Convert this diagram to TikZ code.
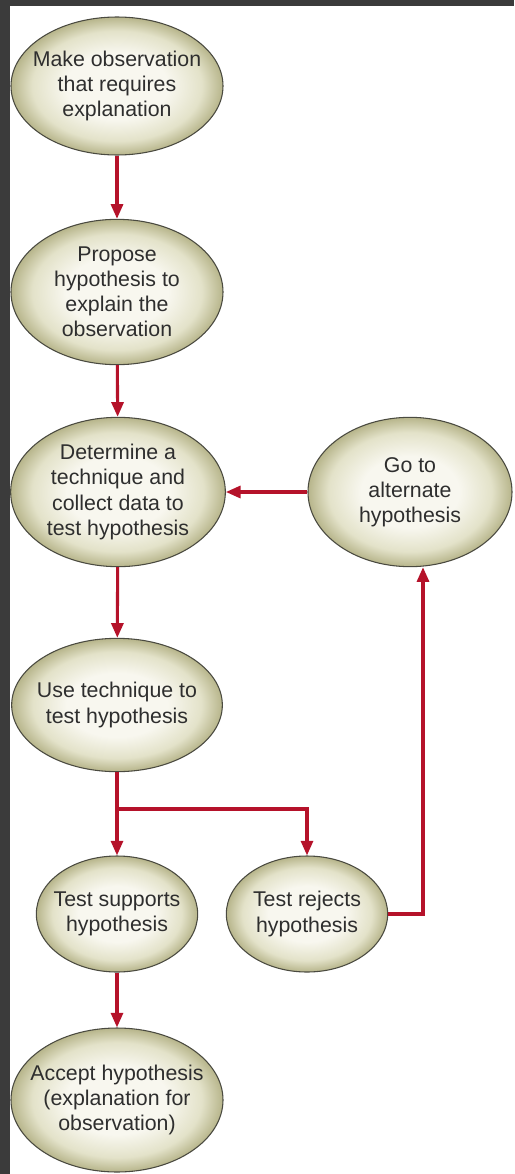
\documentclass[tikz,border=0pt]{standalone}
\usepackage{fontspec}
\setmainfont{Liberation Sans}
\usetikzlibrary{arrows.meta,shapes.geometric}
\definecolor{framegray}{HTML}{3B3B3B}
\definecolor{eggin}{HTML}{F8F7EF}
\definecolor{eggmid}{HTML}{E3E2C9}
\definecolor{eggout}{HTML}{B7B58B}
\definecolor{arrowred}{HTML}{B5122A}
\definecolor{txtgray}{HTML}{2E2E2E}
\definecolor{rimgray}{HTML}{4A4A40}
\pgfdeclareradialshading{eggshade}{\pgfpoint{0bp}{0bp}}{color(0bp)=(eggin); color(12bp)=(eggin); color(20bp)=(eggmid); color(25bp)=(eggout); color(50bp)=(eggout)}
\tikzset{
  egg/.style={ellipse, draw=rimgray, line width=0.8pt, shading=eggshade,
    inner sep=0pt},
  eggtext/.style={inner sep=0pt, align=center,
    font=\fontsize{16}{18.8}\selectfont, text=txtgray},
  flow/.style={draw=arrowred, line width=2.3pt,
    -{Triangle[length=11pt,width=9pt]}},
  flowline/.style={draw=arrowred, line width=2.3pt}
}
\begin{document}
\begin{tikzpicture}[x=0.75pt,y=-0.75pt]
\useasboundingbox (0,0) rectangle (514,1174);
\fill[framegray] (0,0) rectangle (514,1174);
\fill[white] (10,6) rectangle (514,1174);

\node[egg, minimum width=159pt, minimum height=103.5pt] (obs) at (117,86) {};
\node[eggtext] (obst) at (obs) {Make observation\\that requires\\explanation};
\node[egg, minimum width=159pt, minimum height=109pt] (prop) at (117,292) {};
\node[eggtext] (propt) at (prop) {Propose\\hypothesis to\\explain the\\observation};
\node[egg, minimum width=161pt, minimum height=112pt] (det) at (118,492) {};
\node[eggtext] (dett) at (det) {Determine a\\technique and\\collect data to\\test hypothesis};
\node[egg, minimum width=153pt, minimum height=112pt] (alt) at (410,492) {};
\node[eggtext] (altt) at (alt) {Go to\\alternate\\hypothesis};
\node[egg, minimum width=158pt, minimum height=100pt] (use) at (117,705) {};
\node[eggtext] (uset) at (use) {Use technique to\\test hypothesis};
\node[egg, minimum width=121pt, minimum height=87pt] (sup) at (117,914) {};
\node[eggtext] (supt) at (sup) {Test supports\\hypothesis};
\node[egg, minimum width=121pt, minimum height=87pt] (rej) at (307,914) {};
\node[eggtext] (rejt) at (rej) {Test rejects\\hypothesis};
\node[egg, minimum width=159pt, minimum height=108pt] (acc) at (117,1100) {};
\node[eggtext] (acct) at (acc) {Accept hypothesis\\(explanation for\\observation)};

\coordinate (j) at (117,809);
\coordinate (k) at (423,914);

\draw[flow] (obs) -- (prop);
\draw[flow] (prop) -- (det);
\draw[flow] (det) -- (use);
\draw[flowline] (use) -- (j);
\draw[flow] (j) -- (sup);
\draw[flow] (j) -| (rej);
\draw[flow] (rej.east) -- (k) -- (k |- alt.south);
\draw[flow] (alt) -- (det);
\draw[flow] (sup) -- (acc);
\end{tikzpicture}
\end{document}
